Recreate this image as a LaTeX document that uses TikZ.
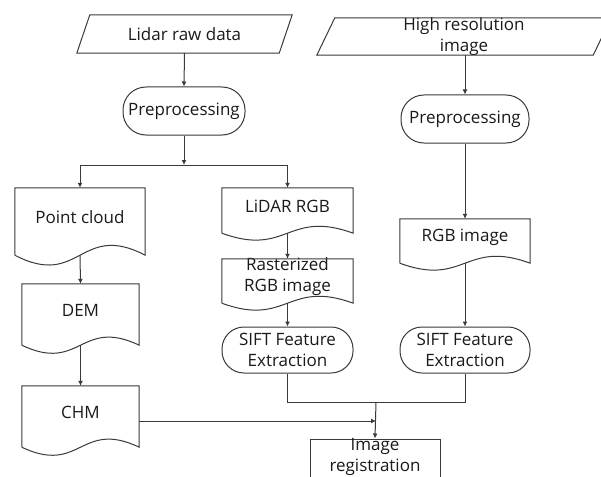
\documentclass[tikz,border=0pt]{standalone}
\usepackage{fontspec}
\setmainfont{Open Sans}
\usetikzlibrary{arrows.meta,calc}
\definecolor{lc}{HTML}{3A3A3A}
\definecolor{txt}{HTML}{1A1A1A}
\newcommand\docpath[2]{%
  \draw[ln] (#1.south west) -- (#1.north west) -- (#1.north east) -- (#1.south east)
    .. controls ($(#1.south)+(0,-#2)$) and ($(#1.south)+(0,#2)$) .. (#1.south west);}
\newcommand\iopath[2]{%
  \draw[ln] (#1.south west) -- ([xshift=#2]#1.north west) -- (#1.north east) -- ([xshift=-#2]#1.south east) -- cycle;}
\begin{document}
\begin{tikzpicture}[x=1pt,y=-1pt,
  every node/.style={font=\fontsize{17}{21}\selectfont, text=txt, inner sep=0pt},
  ln/.style={draw=lc, line width=1pt},
  arr/.style={ln, -{Latex[length=5pt,width=5pt]}},
  txtc/.style={label={[align=center]center:#1}},
  dtxt/.style={label={[align=center,yshift=4pt]center:#1}},
  iobox/.style={rectangle, minimum height=#1},
  procbox/.style={ln, rectangle, minimum height=#1, rounded corners=#1/2-1pt},
  docbox/.style={rectangle, minimum height=#1},
  plainbox/.style={ln, rectangle, minimum height=#1},
]
\useasboundingbox (0,0) rectangle (601,476);
\clip (0,0) rectangle (601,476);
\fill[white] (0,0) rectangle (601,476);

% left column
\node[iobox=38, minimum width=215, txtc={Lidar raw data}] (lraw) at (184.5,34) {};
\node[procbox=48, minimum width=122, txtc={Preprocessing}] (pre1) at (184,111) {};
\coordinate (j1) at (184,165);
\node[docbox=67, minimum width=130, dtxt={Point cloud}] (pc) at (80,221.5) {};
\node[docbox=61, minimum width=117, dtxt={DEM}] (dem) at (80.5,314.5) {};
\node[docbox=61, minimum width=117, dtxt={CHM}] (chm) at (80.5,416.5) {};
\node[docbox=45, minimum width=131, dtxt={LiDAR RGB}] (lrgb) at (287.5,210.5) {};
\node[docbox=44, minimum width=131, dtxt={Rasterized\\RGB image}] (rast) at (287.5,281) {};
\node[procbox=46, minimum width=131, txtc={SIFT Feature\\Extraction}] (sift1) at (287.5,350) {};

% right column
\node[iobox=37, minimum width=294, txtc={High resolution\\image}] (hi) at (464,36.5) {};
\node[procbox=48, minimum width=128, txtc={Preprocessing}] (pre2) at (465,119) {};
\node[docbox=44, minimum width=130, dtxt={RGB image}] (rgb) at (465,241) {};
\node[procbox=46, minimum width=130, txtc={SIFT Feature\\Extraction}] (sift2) at (465,350) {};

% bottom
\node[plainbox=44, minimum width=130, dtxt={Image\\registration}] (reg) at (375,461) {};
\coordinate (j2) at (376,402);
\coordinate (hit) at (376,421);

\iopath{lraw}{13}
\iopath{hi}{18}
\docpath{pc}{34}
\docpath{dem}{28}
\docpath{chm}{28}
\docpath{lrgb}{24}
\docpath{rast}{24}
\docpath{rgb}{24}

% connectors
\draw[arr] (lraw.south) -- (pre1.north);
\draw[arr] (pre1.south) -- (j1);
\draw[ln] (pc.north |- j1) -- (lrgb.north |- j1);
\draw[arr] (pc.north |- j1) -- (pc.north);
\draw[arr] (lrgb.north |- j1) -- (lrgb.north);
\draw[arr] (pc.south) -- (dem.north);
\draw[arr] (dem.south) -- (chm.north);
\draw[arr] (lrgb.south) -- (rast.north);
\draw[arr] (rast.south) -- (sift1.north);
\draw[arr] (hi.south -| pre2.north) -- (pre2.north);
\draw[arr] (pre2.south) -- (rgb.north);
\draw[arr] (rgb.south) -- (sift2.north);
\draw[ln] (sift1.south) -- (sift1.south |- j2) -- (sift2.south |- j2) -- (sift2.south);
\draw[arr] (j2) -- (reg.north);
\draw[arr] (chm.east |- hit) -- (hit);
\end{tikzpicture}
\end{document}
